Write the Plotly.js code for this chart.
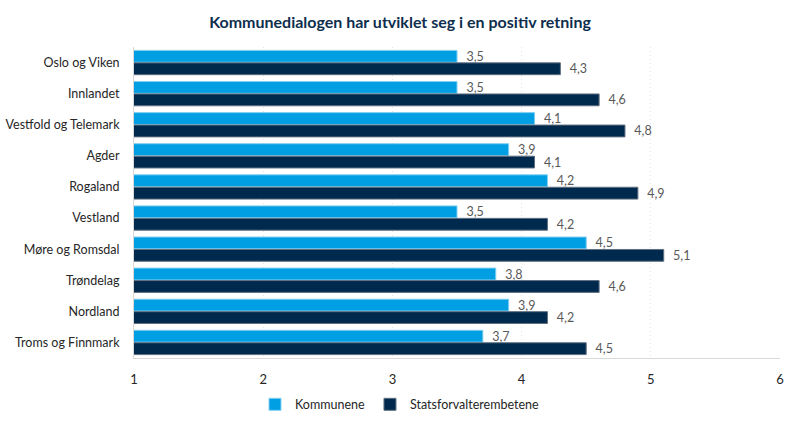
<!DOCTYPE html>
<html>
<head>
<meta charset="utf-8">
<script src="https://cdn.plot.ly/plotly-3.0.1.min.js"></script>
<style>html,body{margin:0;padding:0;background:#fff;}#chart{width:800px;height:426px;}</style>
</head>
<body>
<div id="chart"></div>
<script>
const categories = ["Oslo og Viken","Innlandet","Vestfold og Telemark","Agder","Rogaland","Vestland","Møre og Romsdal","Trøndelag","Nordland","Troms og Finnmark"];
const kommunene = [3.5,3.5,4.1,3.9,4.2,3.5,4.5,3.8,3.9,3.7];
const statsforvalter = [4.3,4.6,4.8,4.1,4.9,4.2,5.1,4.6,4.2,4.5];
const seriesNames = ["Kommunene","Statsforvalterembetene"];
const tickVals = [1,2,3,4,5,6];

const FONT = "Lato, 'Source Sans Pro', 'Noto Sans', sans-serif";
function barTrace(name, vals, color, lineColor){
  return {
    type:'bar', orientation:'h', name:name,
    y:categories, x:vals,
    base:0,
    marker:{color:color, line:{color:lineColor, width:1}},
    texttemplate:'  %{x:.1f}', textposition:'outside', cliponaxis:false, constraintext:'none',
    textfont:{family:FONT, size:12.5, color:'#595959'},
    hoverinfo:'x+y'
  };
}
const data = [
  barTrace(seriesNames[0], kommunene, '#009FE3', '#7fcff1'),
  barTrace(seriesNames[1], statsforvalter, '#002A4D', '#5f6f80')
];
const layout = {
  width:800, height:426,
  paper_bgcolor:'#fff', plot_bgcolor:'#fff',
  separators:', ',
  font:{family:FONT, color:'#262626', size:13},
  title:{text:'<b>Kommunedialogen har utviklet seg i en positiv retning</b>', x:0.5, xref:'container', xanchor:'center', y:0.96, yref:'container', font:{family:FONT, size:16, color:'#0E2E4E'}},
  margin:{l:134, r:20, t:47, b:68},
  barmode:'group', bargap:0.2, bargroupgap:0.05,
  xaxis:{range:[1,6], tickvals:tickVals, showgrid:true, gridcolor:'#e3e3e3', griddash:'1px,3px', gridwidth:1,
         zeroline:false, showline:true, linecolor:'#d9d9d9', linewidth:1, ticks:'', ticklabelstandoff:9,
         tickfont:{family:FONT, size:13, color:'#262626'}, fixedrange:true},
  yaxis:{autorange:'reversed', showline:true, linecolor:'#d9d9d9', linewidth:1, ticks:'', ticklabelstandoff:11,
         tickfont:{family:FONT, size:12.5, color:'#262626'}, showgrid:false},
  legend:{orientation:'h', xref:'container', x:0.5, xanchor:'center', yref:'container', y:0.05, yanchor:'middle',
          font:{family:FONT, size:12.5, color:'#262626'}, itemwidth:30, traceorder:'normal'},
  showlegend:true
};
Plotly.newPlot('chart', data, layout, {displayModeBar:false, staticPlot:true});
</script>
</body>
</html>
